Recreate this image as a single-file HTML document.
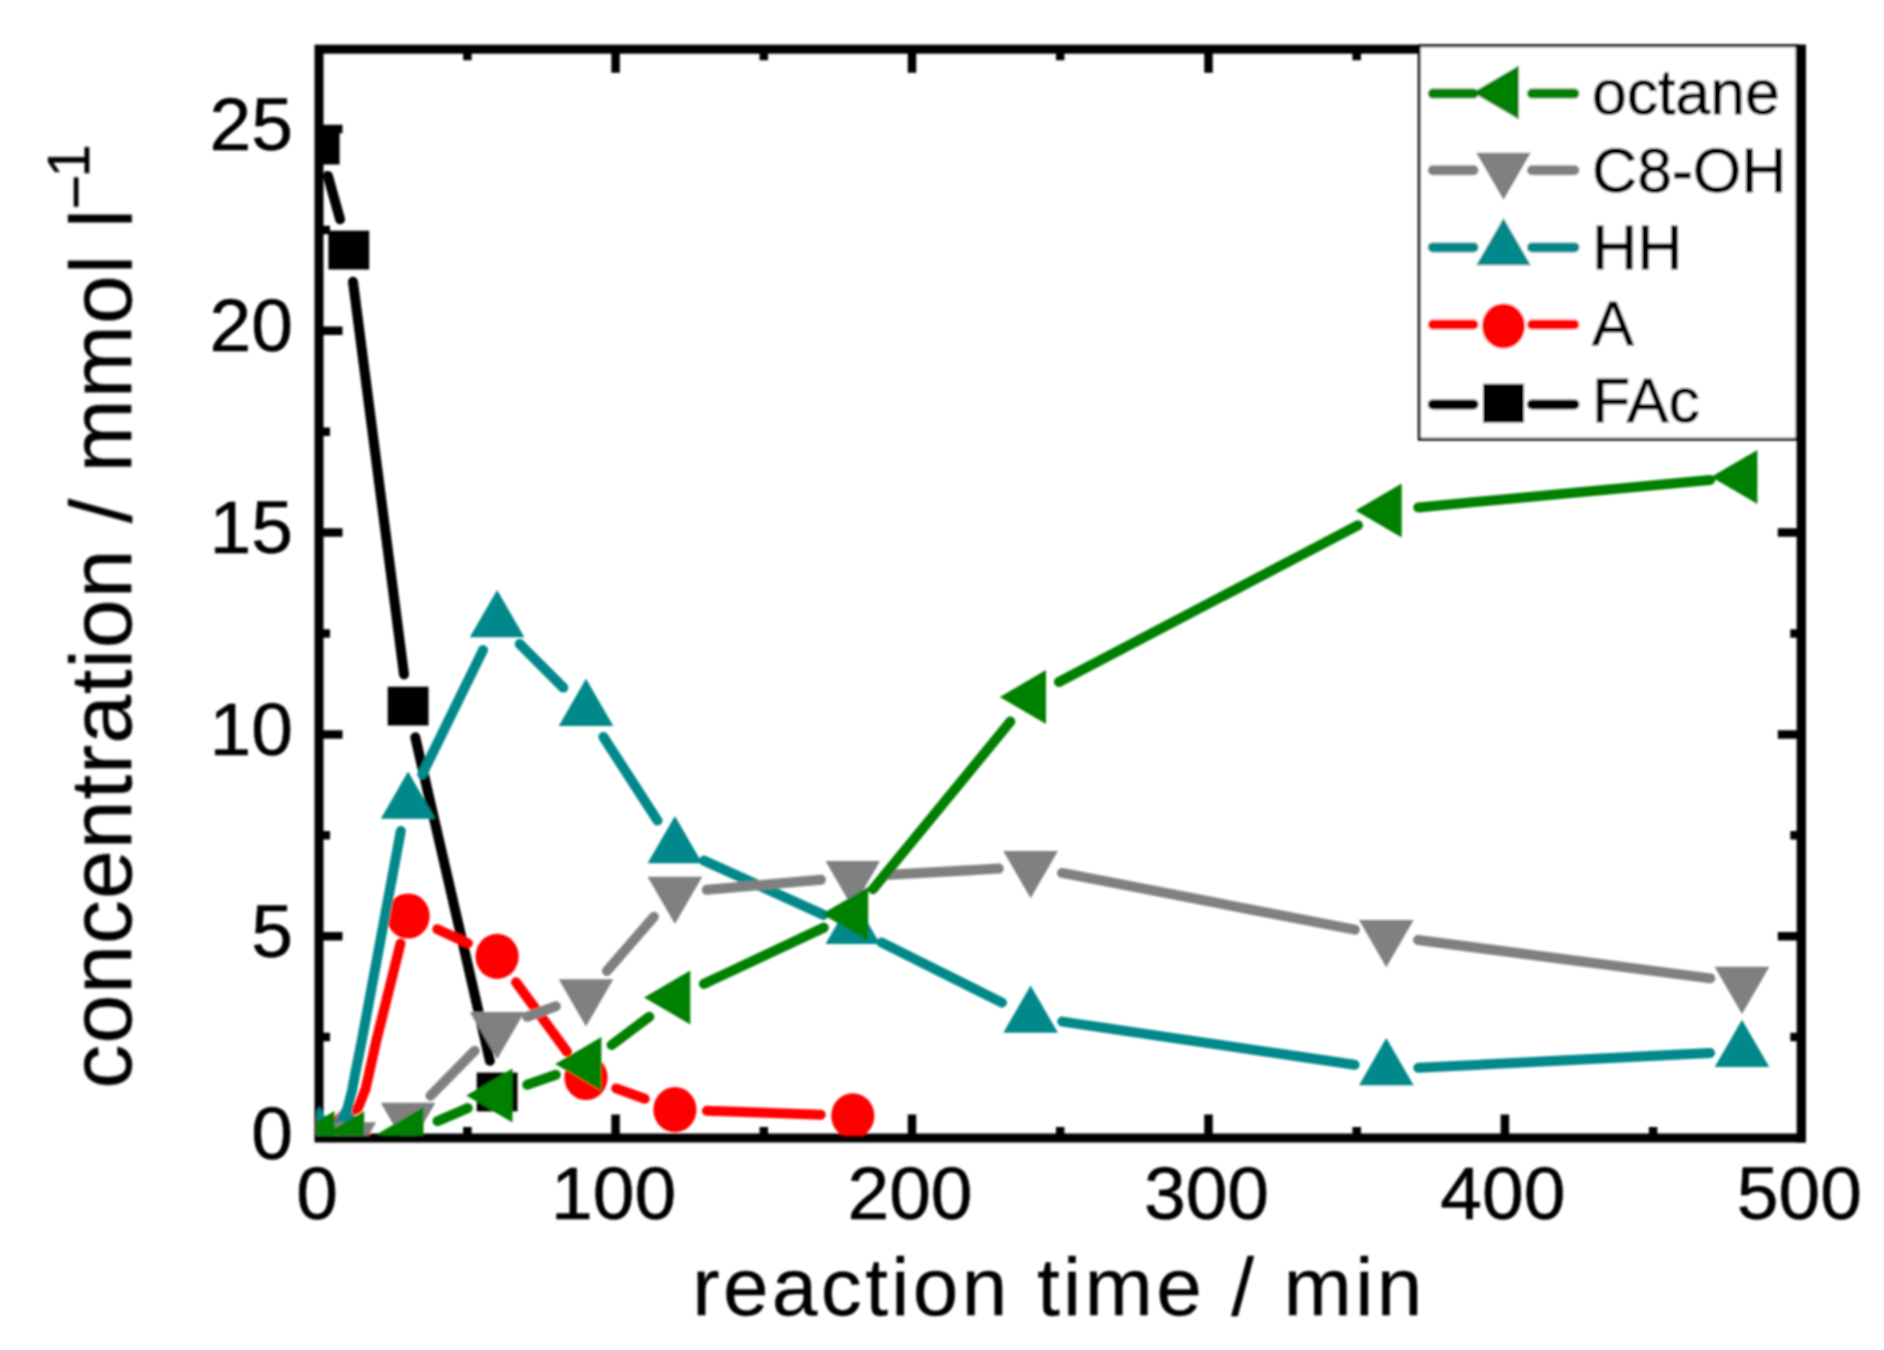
<!DOCTYPE html>
<html><head><meta charset="utf-8"><title>chart</title>
<style>
html,body{margin:0;padding:0;background:#fff;}
body{width:1884px;height:1350px;overflow:hidden;}
svg{display:block;font-family:"Liberation Sans",sans-serif;}
.tk{font-size:75px;fill:#000;stroke:#000;stroke-width:0.6px;}
.lg{font-size:62.5px;fill:#000;stroke:#000;stroke-width:0.9px;}
.ti{font-size:88px;fill:#000;stroke:#000;stroke-width:0.3px;}
</style></head><body>
<svg width="1884" height="1350" viewBox="0 0 1884 1350">
<defs><clipPath id="cp"><rect x="316.5" y="46.7" width="1482.3" height="1088.8"/></clipPath>
<filter id="bl" x="-5%" y="-5%" width="110%" height="110%"><feGaussianBlur stdDeviation="0.9"/></filter></defs>
<rect width="1884" height="1350" fill="#fff"/>
<g filter="url(#bl)">
<rect x="319.0" y="49.2" width="1482.3" height="1088.8" fill="none" stroke="#000" stroke-width="9.0"/>
<path d="M467.4 1138.0 v-11.0 M467.4 49.2 v11.0 M615.6 1138.0 v-23.5 M615.6 49.2 v23.5 M763.8 1138.0 v-11.0 M763.8 49.2 v11.0 M912.0 1138.0 v-23.5 M912.0 49.2 v23.5 M1060.2 1138.0 v-11.0 M1060.2 49.2 v11.0 M1208.5 1138.0 v-23.5 M1208.5 49.2 v23.5 M1356.7 1138.0 v-11.0 M1356.7 49.2 v11.0 M1504.9 1138.0 v-23.5 M1504.9 49.2 v23.5 M1653.1 1138.0 v-11.0 M1653.1 49.2 v11.0 M319.0 1037.1 h11.0 M1801.3 1037.1 h-11.0 M319.0 936.2 h23.5 M1801.3 936.2 h-23.5 M319.0 835.3 h11.0 M1801.3 835.3 h-11.0 M319.0 734.4 h23.5 M1801.3 734.4 h-23.5 M319.0 633.5 h11.0 M1801.3 633.5 h-11.0 M319.0 532.6 h23.5 M1801.3 532.6 h-23.5 M319.0 431.7 h11.0 M1801.3 431.7 h-11.0 M319.0 330.8 h23.5 M1801.3 330.8 h-23.5 M319.0 229.9 h11.0 M1801.3 229.9 h-11.0 M319.0 129.0 h23.5 M1801.3 129.0 h-23.5" stroke="#000" stroke-width="8.5" fill="none"/>
<g clip-path="url(#cp)">
<line x1="327.9" y1="175.9" x2="340.1" y2="219.3" stroke="#000000" stroke-width="10.0" stroke-linecap="round"/>
<line x1="353.0" y1="281.8" x2="404.0" y2="674.4" stroke="#000000" stroke-width="10.0" stroke-linecap="round"/>
<line x1="415.3" y1="737.3" x2="489.9" y2="1060.8" stroke="#000000" stroke-width="10.0" stroke-linecap="round"/>
<rect x="298.8" y="125.7" width="40.8" height="38.8" fill="#000000"/>
<rect x="328.4" y="230.7" width="40.8" height="38.8" fill="#000000"/>
<rect x="387.7" y="686.7" width="40.8" height="38.8" fill="#000000"/>
<rect x="476.7" y="1072.6" width="40.8" height="38.8" fill="#000000"/>
<polyline points="335.0,1124.0 342.0,1116.0 358.0,1108.0 365.6,1088.8 376.5,1040.0 400.5,943.5" fill="none" stroke="#ff0000" stroke-width="10.0" stroke-linecap="round" stroke-linejoin="round"/>
<line x1="437.3" y1="929.2" x2="467.9" y2="943.2" stroke="#ff0000" stroke-width="10.0" stroke-linecap="round"/>
<line x1="516.0" y1="982.2" x2="567.0" y2="1051.7" stroke="#ff0000" stroke-width="10.0" stroke-linecap="round"/>
<line x1="616.1" y1="1088.4" x2="644.8" y2="1098.8" stroke="#ff0000" stroke-width="10.0" stroke-linecap="round"/>
<line x1="706.9" y1="1110.8" x2="820.8" y2="1114.7" stroke="#ff0000" stroke-width="10.0" stroke-linecap="round"/>
<ellipse cx="319.2" cy="1138.0" rx="21.6" ry="22.6" fill="#ff0000"/>
<ellipse cx="348.8" cy="1138.0" rx="21.6" ry="22.6" fill="#ff0000"/>
<ellipse cx="408.1" cy="916.0" rx="21.6" ry="22.6" fill="#ff0000"/>
<ellipse cx="497.1" cy="956.4" rx="21.6" ry="22.6" fill="#ff0000"/>
<ellipse cx="586.0" cy="1077.5" rx="21.6" ry="22.6" fill="#ff0000"/>
<ellipse cx="674.9" cy="1109.7" rx="21.6" ry="22.6" fill="#ff0000"/>
<ellipse cx="852.8" cy="1115.8" rx="21.6" ry="22.6" fill="#ff0000"/>
<polyline points="336.0,1127.0 341.0,1120.0 347.3,1109.0 352.1,1090.4 355.4,1072.5 361.9,1040.0 400.8,831.0" fill="none" stroke="#00888a" stroke-width="10.0" stroke-linecap="round" stroke-linejoin="round"/>
<line x1="422.2" y1="774.3" x2="483.0" y2="650.1" stroke="#00888a" stroke-width="10.0" stroke-linecap="round"/>
<line x1="519.7" y1="644.0" x2="563.3" y2="687.6" stroke="#00888a" stroke-width="10.0" stroke-linecap="round"/>
<line x1="603.4" y1="737.0" x2="657.5" y2="820.6" stroke="#00888a" stroke-width="10.0" stroke-linecap="round"/>
<line x1="704.0" y1="860.6" x2="823.6" y2="914.9" stroke="#00888a" stroke-width="10.0" stroke-linecap="round"/>
<line x1="881.4" y1="942.4" x2="1002.0" y2="1002.6" stroke="#00888a" stroke-width="10.0" stroke-linecap="round"/>
<line x1="1062.3" y1="1021.6" x2="1354.7" y2="1064.7" stroke="#00888a" stroke-width="10.0" stroke-linecap="round"/>
<line x1="1418.3" y1="1067.8" x2="1710.1" y2="1052.9" stroke="#00888a" stroke-width="10.0" stroke-linecap="round"/>
<polygon points="319.2,1106.6 291.9,1153.8 346.5,1153.8" fill="#00888a"/>
<polygon points="348.8,1106.6 321.5,1153.8 376.1,1153.8" fill="#00888a"/>
<polygon points="408.1,771.6 380.8,818.8 435.4,818.8" fill="#00888a"/>
<polygon points="497.1,590.0 469.8,637.2 524.4,637.2" fill="#00888a"/>
<polygon points="586.0,678.8 558.7,726.0 613.3,726.0" fill="#00888a"/>
<polygon points="674.9,816.0 647.6,863.2 702.2,863.2" fill="#00888a"/>
<polygon points="852.8,896.7 825.5,943.9 880.1,943.9" fill="#00888a"/>
<polygon points="1030.6,985.5 1003.3,1032.7 1057.9,1032.7" fill="#00888a"/>
<polygon points="1386.3,1038.0 1359.0,1085.2 1413.6,1085.2" fill="#00888a"/>
<polygon points="1742.0,1019.8 1714.7,1067.0 1769.3,1067.0" fill="#00888a"/>
<line x1="430.5" y1="1095.8" x2="474.7" y2="1050.7" stroke="#808080" stroke-width="10.0" stroke-linecap="round"/>
<line x1="527.1" y1="1016.8" x2="555.9" y2="1006.2" stroke="#808080" stroke-width="10.0" stroke-linecap="round"/>
<line x1="606.9" y1="971.0" x2="653.9" y2="916.8" stroke="#808080" stroke-width="10.0" stroke-linecap="round"/>
<line x1="706.8" y1="889.8" x2="820.9" y2="879.7" stroke="#808080" stroke-width="10.0" stroke-linecap="round"/>
<line x1="884.7" y1="875.1" x2="998.7" y2="868.6" stroke="#808080" stroke-width="10.0" stroke-linecap="round"/>
<line x1="1062.0" y1="872.9" x2="1354.9" y2="929.7" stroke="#808080" stroke-width="10.0" stroke-linecap="round"/>
<line x1="1418.0" y1="940.0" x2="1710.3" y2="978.4" stroke="#808080" stroke-width="10.0" stroke-linecap="round"/>
<polygon points="319.2,1169.4 291.9,1122.2 346.5,1122.2" fill="#808080"/>
<polygon points="348.8,1169.4 321.5,1122.2 376.1,1122.2" fill="#808080"/>
<polygon points="408.1,1150.0 380.8,1102.8 435.4,1102.8" fill="#808080"/>
<polygon points="497.1,1059.2 469.8,1012.0 524.4,1012.0" fill="#808080"/>
<polygon points="586.0,1026.5 558.7,979.3 613.3,979.3" fill="#808080"/>
<polygon points="674.9,924.0 647.6,876.8 702.2,876.8" fill="#808080"/>
<polygon points="852.8,908.3 825.5,861.1 880.1,861.1" fill="#808080"/>
<polygon points="1030.6,898.2 1003.3,851.0 1057.9,851.0" fill="#808080"/>
<polygon points="1386.3,967.2 1359.0,920.0 1413.6,920.0" fill="#808080"/>
<polygon points="1742.0,1014.0 1714.7,966.8 1769.3,966.8" fill="#808080"/>
<line x1="437.5" y1="1121.2" x2="467.7" y2="1108.1" stroke="#008000" stroke-width="10.0" stroke-linecap="round"/>
<line x1="527.2" y1="1084.8" x2="555.8" y2="1074.8" stroke="#008000" stroke-width="10.0" stroke-linecap="round"/>
<line x1="611.6" y1="1045.0" x2="649.3" y2="1016.7" stroke="#008000" stroke-width="10.0" stroke-linecap="round"/>
<line x1="703.9" y1="983.9" x2="823.8" y2="927.6" stroke="#008000" stroke-width="10.0" stroke-linecap="round"/>
<line x1="873.0" y1="889.2" x2="1010.3" y2="721.6" stroke="#008000" stroke-width="10.0" stroke-linecap="round"/>
<line x1="1058.9" y1="682.0" x2="1358.0" y2="525.3" stroke="#008000" stroke-width="10.0" stroke-linecap="round"/>
<line x1="1418.2" y1="507.4" x2="1710.2" y2="479.9" stroke="#008000" stroke-width="10.0" stroke-linecap="round"/>
<polygon points="288.4,1138.0 334.6,1111.0 334.6,1165.0" fill="#008000"/>
<polygon points="318.0,1138.0 364.2,1111.0 364.2,1165.0" fill="#008000"/>
<polygon points="377.3,1134.0 423.5,1107.0 423.5,1161.0" fill="#008000"/>
<polygon points="466.3,1095.4 512.5,1068.4 512.5,1122.4" fill="#008000"/>
<polygon points="555.2,1064.1 601.4,1037.1 601.4,1091.1" fill="#008000"/>
<polygon points="644.1,997.5 690.3,970.5 690.3,1024.5" fill="#008000"/>
<polygon points="822.0,914.0 868.2,887.0 868.2,941.0" fill="#008000"/>
<polygon points="999.8,696.9 1046.0,669.9 1046.0,723.9" fill="#008000"/>
<polygon points="1355.5,510.4 1401.7,483.4 1401.7,537.4" fill="#008000"/>
<polygon points="1711.2,476.9 1757.4,449.9 1757.4,503.9" fill="#008000"/>
</g>
<text class="tk" x="317.2" y="1219" text-anchor="middle">0</text>
<text class="tk" x="613.6" y="1219" text-anchor="middle">100</text>
<text class="tk" x="910.0" y="1219" text-anchor="middle">200</text>
<text class="tk" x="1206.5" y="1219" text-anchor="middle">300</text>
<text class="tk" x="1502.9" y="1219" text-anchor="middle">400</text>
<text class="tk" x="1799.3" y="1219" text-anchor="middle">500</text>
<text class="tk" x="293" y="1158.5" text-anchor="end">0</text>
<text class="tk" x="293" y="956.7" text-anchor="end">5</text>
<text class="tk" x="293" y="754.9" text-anchor="end">10</text>
<text class="tk" x="293" y="553.1" text-anchor="end">15</text>
<text class="tk" x="293" y="351.3" text-anchor="end">20</text>
<text class="tk" x="293" y="149.5" text-anchor="end">25</text>
<text class="ti" id="xt" x="1059" y="1314.5" text-anchor="middle" style="font-size:82px" letter-spacing="3.35">reaction time / min</text>
<text class="ti" id="yt" transform="translate(131.1,1088.6) rotate(-90)" letter-spacing="0.9">concentration / mmol l<tspan id="sup" font-size="60" dy="-35" dx="-1.5">−</tspan><tspan font-size="60" dy="-7" dx="-4">1</tspan></text>
<rect x="1419.2" y="45.8" width="377.79999999999995" height="393.4" fill="#fff" stroke="#000" stroke-width="2.8"/>
<path d="M1432.8 93.6 H1473.5 M1532 93.6 H1574.4" stroke="#008000" stroke-width="10.0" stroke-linecap="round"/>
<polygon points="1472.7,92.4 1518.9,65.4 1518.9,119.4" fill="#008000"/>
<text class="lg" x="1592" y="114">octane</text>
<path d="M1432.8 170.2 H1473.5 M1532 170.2 H1574.4" stroke="#808080" stroke-width="10.0" stroke-linecap="round"/>
<polygon points="1503.5,200.0 1476.2,152.8 1530.8,152.8" fill="#808080"/>
<text class="lg" x="1592" y="192">C8-OH</text>
<path d="M1432.8 247.4 H1473.5 M1532 247.4 H1574.4" stroke="#00888a" stroke-width="10.0" stroke-linecap="round"/>
<polygon points="1503.5,218.0 1476.2,265.2 1530.8,265.2" fill="#00888a"/>
<text class="lg" x="1592" y="268.7">HH</text>
<path d="M1432.8 324.6 H1473.5 M1532 324.6 H1574.4" stroke="#ff0000" stroke-width="10.0" stroke-linecap="round"/>
<ellipse cx="1503.5" cy="326.0" rx="21.6" ry="22.6" fill="#ff0000"/>
<text class="lg" x="1592" y="345">A</text>
<path d="M1432.8 404.4 H1473.5 M1532 404.4 H1574.4" stroke="#000000" stroke-width="10.0" stroke-linecap="round"/>
<rect x="1483.1" y="383.8" width="40.8" height="38.8" fill="#000000"/>
<text class="lg" x="1592" y="421.5">FAc</text>
<line x1="1801.3" y1="44.7" x2="1801.3" y2="1142.5" stroke="#000" stroke-width="9.0"/>
</g></svg></body></html>
